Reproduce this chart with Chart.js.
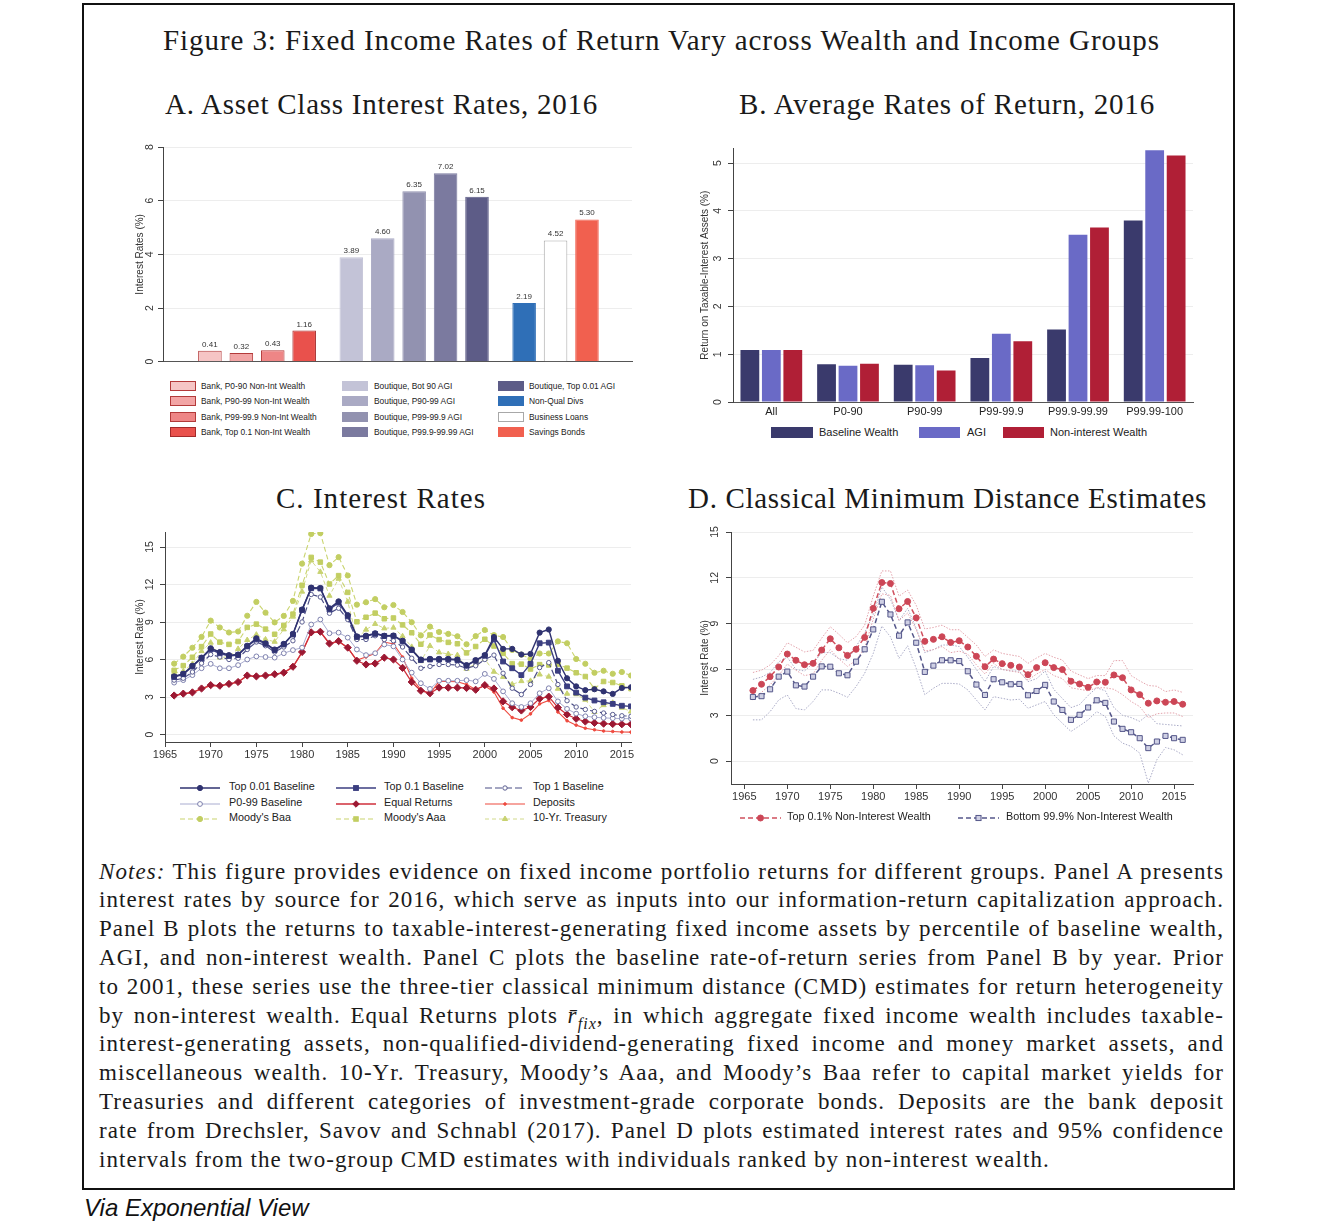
<!DOCTYPE html>
<html>
<head>
<meta charset="utf-8">
<title>Figure 3</title>
<script src="https://cdn.jsdelivr.net/npm/chart.js@4.4.1/dist/chart.umd.min.js"></script>
<style>
html,body{margin:0;padding:0;background:#fff;}
body{position:relative;width:1340px;height:1230px;overflow:hidden;font-family:'Liberation Sans',Arial,sans-serif;color:#222;}
#frame{position:absolute;left:82px;top:3px;width:1153px;height:1187px;border:2px solid #111;box-sizing:border-box;}
.ttl{position:absolute;font-family:'Liberation Serif',serif;font-size:29px;line-height:30px;height:30px;white-space:nowrap;color:#1a1a1a;}
.note{position:absolute;left:99px;width:1125px;font-family:'Liberation Serif',serif;font-size:23px;line-height:28.8px;height:28.8px;text-align:justify;text-align-last:justify;color:#1a1a1a;}
.note.last{text-align-last:left;}
.cv{position:absolute;}
.sw{position:absolute;box-sizing:border-box;}
.lt{position:absolute;white-space:nowrap;line-height:1;transform:translateY(-50%);color:#222;}
.ls{position:absolute;transform:translateY(-50%);}
#via{position:absolute;left:84px;top:1194px;font-style:italic;font-size:24px;line-height:28px;white-space:nowrap;color:#111;}
</style>
</head>
<body>
<div id="frame"></div>

<div class="ttl" data-w="997" style="left:163px;top:25px">Figure 3: Fixed Income Rates of Return Vary across Wealth and Income Groups</div>
<div class="ttl" data-w="433" style="left:165px;top:89px">A. Asset Class Interest Rates, 2016</div>
<div class="ttl" data-w="416" style="left:739px;top:89px">B. Average Rates of Return, 2016</div>
<div class="ttl" data-w="210" style="left:276px;top:483px">C. Interest Rates</div>
<div class="ttl" data-w="519" style="left:688px;top:483px">D. Classical Minimum Distance Estimates</div>

<canvas id="cA" class="cv" width="522" height="238" style="left:120px;top:135px"></canvas>
<canvas id="cB" class="cv" width="515" height="287" style="left:690px;top:135px"></canvas>
<canvas id="cC" class="cv" width="520" height="250" style="left:120px;top:520px"></canvas>
<canvas id="cD" class="cv" width="515" height="290" style="left:690px;top:520px"></canvas>

<div id="legends"></div>
<div id="notes"></div>
<div id="via">Via Exponential View</div>

<script>
// ---- Panel A: asset class interest rates, 2016
const aLabels=['Bank, P0-90 Non-Int Wealth','Bank, P90-99 Non-Int Wealth','Bank, P99-99.9 Non-Int Wealth','Bank, Top 0.1 Non-Int Wealth',
 'Boutique, Bot 90 AGI','Boutique, P90-99 AGI','Boutique, P99-99.9 AGI','Boutique, P99.9-99.99 AGI','Boutique, Top 0.01 AGI',
 'Non-Qual Divs','Business Loans','Savings Bonds'];
const aRates=[0.41,0.32,0.43,1.16,3.89,4.60,6.35,7.02,6.15,2.19,4.52,5.30];
const aGroup=[0,0,0,0,1,1,1,1,1,2,2,2];

// ---- Panel B: average rates of return by group, 2016
const bCats=['All','P0-90','P90-99','P99-99.9','P99.9-99.99','P99.99-100'];
const bSeries=['Baseline Wealth','AGI','Non-interest Wealth'];
const bBaseline=[1.09,0.79,0.78,0.92,1.52,3.80];
const bAGI=[1.09,0.76,0.77,1.43,3.50,5.27];
const bNonInt=[1.09,0.80,0.66,1.27,3.65,5.16];

// ---- Panel C / D: years
const years=[1966,1967,1968,1969,1970,1971,1972,1973,1974,1975,1976,1977,1978,1979,1980,1981,1982,1983,1984,1985,
 1986,1987,1988,1989,1990,1991,1992,1993,1994,1995,1996,1997,1998,1999,2000,2001,2002,2003,2004,2005,
 2006,2007,2008,2009,2010,2011,2012,2013,2014,2015,2016];

// ---- Panel C: interest rates
const cSeries=['Top 0.01 Baseline','Top 0.1 Baseline','Top 1 Baseline','P0-99 Baseline','Equal Returns','Deposits',"Moody's Baa","Moody's Aaa",'10-Yr. Treasury'];
const cTop001=[4.65,4.86,5.50,6.15,6.90,6.60,6.35,6.40,7.10,7.70,7.30,6.80,7.25,8.05,10.00,11.75,11.72,10.10,10.65,9.55,7.85,7.90,8.10,7.90,7.92,7.50,6.80,6.00,6.05,6.05,6.05,6.00,5.55,5.95,6.35,
 7.80,6.85,6.85,6.40,6.45,8.15,8.40,5.90,4.50,3.85,3.55,3.62,3.45,3.25,3.72,3.78];
const cTop01=[4.60,4.82,5.45,6.10,6.80,6.50,6.28,6.35,7.05,7.60,7.25,6.75,7.20,8.00,9.95,11.70,11.68,10.00,10.55,9.45,7.80,7.85,8.05,7.88,7.88,7.45,6.75,5.95,6.00,6.00,6.00,5.95,5.50,5.90,6.30,
 7.60,5.84,5.30,4.75,5.65,7.30,7.35,5.10,3.85,3.35,2.95,2.72,2.58,2.45,2.30,2.25];
const cTop1=[4.35,4.50,5.00,5.70,6.40,6.20,6.00,6.10,6.80,7.40,7.10,6.60,7.00,7.50,9.00,11.20,11.00,9.70,10.10,9.20,7.60,7.60,7.90,7.60,7.50,7.00,6.10,5.30,5.45,5.60,5.60,5.55,5.30,5.50,6.00,
 6.35,4.90,3.70,3.20,4.00,5.35,5.75,4.00,2.70,2.20,2.00,1.85,1.72,1.60,1.50,1.46];
const cP099=[4.15,4.35,4.75,5.30,5.65,5.30,5.30,5.55,6.00,6.25,6.20,6.15,6.50,6.75,6.95,8.80,9.20,8.10,8.15,7.75,6.80,6.35,6.50,7.20,7.05,6.00,4.95,4.10,3.65,4.30,4.30,4.30,4.35,4.25,4.85,
 4.45,3.45,2.50,2.20,2.50,3.30,3.70,2.65,2.05,1.67,1.46,1.38,1.33,1.30,1.27,1.27];
const cEqual=[3.12,3.27,3.37,3.68,3.95,3.90,4.05,4.20,4.72,4.65,4.72,4.82,4.95,5.42,6.60,8.17,8.22,7.28,7.47,6.95,5.90,5.60,5.68,6.15,6.00,5.33,4.20,3.50,3.30,3.75,3.75,3.75,3.72,3.58,3.95,
 3.68,2.65,2.18,1.92,2.20,2.87,3.03,2.15,1.60,1.26,1.04,0.93,0.87,0.84,0.82,0.82];
const cDeposits=[3.10,3.25,3.35,3.65,3.90,3.88,4.02,4.18,4.70,4.62,4.70,4.80,4.92,5.40,6.55,8.15,8.20,7.25,7.45,6.92,5.95,6.20,6.50,7.40,7.25,6.20,4.50,3.60,3.25,4.25,4.25,4.22,4.00,3.60,3.90,
 3.40,2.10,1.35,1.15,1.65,2.45,2.72,1.80,1.10,0.75,0.50,0.38,0.28,0.24,0.20,0.19];
const cBaa=[5.67,6.23,6.94,7.81,9.11,8.56,8.16,8.24,9.50,10.61,9.75,8.97,9.49,10.69,13.67,16.04,16.11,13.55,14.19,12.72,10.39,10.58,10.83,10.18,10.36,9.80,8.98,7.93,8.63,8.20,8.05,7.86,7.22,7.87,8.36,
 7.95,7.80,6.77,6.39,6.06,6.48,6.48,7.45,7.30,6.04,5.66,4.94,5.10,4.86,5.00,4.72];
const cAaa=[5.13,5.51,6.18,7.03,8.04,7.39,7.21,7.44,8.57,8.83,8.43,8.02,8.73,9.63,11.94,14.17,13.79,12.04,12.71,11.37,9.02,9.38,9.71,9.26,9.32,8.77,8.14,7.22,7.96,7.59,7.37,7.26,6.53,7.04,7.62,
 7.08,6.49,5.67,5.63,5.24,5.59,5.56,5.63,5.31,4.94,4.64,3.67,4.24,4.16,3.89,3.67];
const cTsy=[4.92,5.07,5.65,6.67,7.35,6.16,6.21,6.85,7.56,7.99,7.61,7.42,8.41,9.43,11.43,13.92,13.01,11.10,12.46,10.62,7.67,8.39,8.85,8.49,8.55,7.86,7.01,5.87,7.09,6.57,6.44,6.35,5.26,5.65,6.03,
 5.02,4.61,4.01,4.27,4.29,4.80,4.63,3.66,3.26,3.22,2.78,1.80,2.35,2.54,2.14,1.84];

// ---- Panel D: CMD estimates and 95% intervals
const dSeries=['Top 0.1% Non-Interest Wealth','Bottom 99.9% Non-Interest Wealth'];
const dTop=[4.62,5.03,5.53,6.16,7.01,6.60,6.31,6.40,7.27,8.01,7.42,6.92,7.32,8.10,10.00,11.69,11.63,9.97,10.45,9.38,7.84,7.97,8.14,7.77,7.88,7.47,6.86,6.18,6.68,6.38,6.27,6.16,5.66,6.12,6.44,
 6.12,5.99,5.23,5.05,4.83,5.18,5.16,5.64,5.46,4.66,4.35,3.79,3.94,3.85,3.90,3.72];
const dBot=[4.20,4.25,4.70,5.53,5.86,4.96,4.88,5.53,6.20,6.18,5.75,5.62,6.51,7.32,8.62,10.43,9.60,8.21,9.08,7.75,5.84,6.25,6.60,6.60,6.55,5.88,5.01,4.33,5.36,5.16,5.03,5.05,4.31,4.59,4.99,
 3.90,3.35,2.70,3.03,3.51,3.98,3.81,2.59,2.11,1.89,1.50,0.85,1.28,1.65,1.50,1.39];
const dTopHi=[5.80,5.95,6.30,6.90,7.75,7.45,7.15,7.25,8.05,8.80,8.30,7.75,8.15,8.90,10.80,12.45,12.45,10.80,11.20,10.20,8.65,8.75,8.90,8.60,8.60,8.10,7.60,6.85,7.28,7.05,6.95,6.85,6.40,6.75,7.05,
 6.80,6.62,5.90,5.64,5.40,5.60,5.60,6.58,6.58,5.60,5.25,4.95,4.90,4.55,4.66,4.50];
const dTopLo=[4.00,4.50,5.00,5.60,6.35,5.95,5.60,5.70,6.60,7.30,6.70,6.20,6.60,7.40,9.30,10.95,10.85,9.20,9.70,8.60,7.20,7.30,7.50,7.10,7.20,7.00,6.30,5.70,6.40,6.00,5.90,5.80,5.30,5.70,6.00,
 5.60,5.40,4.80,4.70,4.60,4.80,4.80,4.70,4.35,3.90,3.57,2.85,3.10,3.15,3.15,2.92];
const dBotHi=[5.35,5.50,5.80,6.50,6.80,6.00,5.90,6.40,7.10,7.10,6.70,6.60,7.50,8.40,9.60,11.40,10.60,9.20,10.00,8.70,7.10,7.30,7.60,7.60,7.50,6.80,6.00,5.20,6.20,6.00,5.90,5.90,5.20,5.40,5.90,
 4.70,4.10,3.50,3.70,4.30,4.80,4.60,3.50,3.00,2.85,2.60,3.05,2.45,2.40,2.35,2.30];
const dBotLo=[2.70,2.70,3.24,4.00,4.33,3.44,3.35,3.90,4.66,4.66,4.44,4.18,4.88,5.75,7.05,8.84,8.14,6.73,7.55,6.07,4.35,4.77,5.09,5.09,5.05,4.66,4.00,3.35,4.22,4.11,4.00,4.05,3.46,3.68,3.90,
 3.03,2.48,1.94,2.31,2.70,3.24,2.92,1.65,1.18,0.96,0.52,-1.44,0.09,0.89,0.74,0.41];

// ---- styles
const aFill=['#f6c5c5','#f2a5a5','#ee8686','#e9514c','#c3c3d7','#aaaac4','#9292b0','#7b7a9f','#5d5c87','#2f6fb7','#ffffff','#f1604f'];
const aEdge=['#b33a3a','#b33a3a','#b33a3a','#a32a2a','#c3c3d7','#aaaac4','#9292b0','#7b7a9f','#5d5c87','#2f6fb7','#a8a8a8','#f1604f'];
const bColors=['#3a3a6c','#6a6ac6','#b01f36'];
const cStyles=[
 {color:'#2f3270',width:1.4,dash:[],shape:'circle',r:2.6,fill:'#2f3270',pt:'#2f3270'},
 {color:'#3b3e80',width:1.4,dash:[],shape:'rect',r:3.4,fill:'#3b3e80',pt:'#3b3e80'},
 {color:'#4b4e86',width:1.2,dash:[7,3],shape:'circle',r:2.2,fill:'#ffffff',pt:'#5a5d90'},
 {color:'#a9acd0',width:1,dash:[],shape:'circle',r:2.4,fill:'#ffffff',pt:'#7d80ad'},
 {color:'#cf2f3b',width:1.3,dash:[],shape:'rectRot',r:3.6,fill:'#9c1832',pt:'#9c1832'},
 {color:'#ee4a3f',width:1.1,dash:[],shape:'circle',r:1.3,fill:'#ee4a3f',pt:'#ee4a3f'},
 {color:'#c9d46e',width:1.1,dash:[5,3],shape:'circle',r:2.6,fill:'#c2ce62',pt:'#c2ce62'},
 {color:'#c9d46e',width:1.1,dash:[5,3],shape:'rect',r:3.2,fill:'#c2ce62',pt:'#c2ce62'},
 {color:'#d2da8c',width:1.0,dash:[4,3],shape:'triangle',r:3,fill:'#c8d270',pt:'#c8d270'}
];
const dStyles=[
 {color:'#d0505e',width:1.5,dash:[5,3],shape:'circle',r:3,fill:'#cc4656',pt:'#cc4656'},
 {color:'#55578a',width:1.5,dash:[5,3],shape:'rect',r:3.6,fill:'#cfd0e4',pt:'#55578a'}
];

Chart.defaults.font.family="'Liberation Sans', Arial, sans-serif";
Chart.defaults.color='#333';

function pts(vals){return years.map((y,i)=>({x:y,y:vals[i]}));}

function yAxis(min,max,step,title,titlePad,tickPad,width){
  return {min:min,max:max,
    afterFit:function(s){s.width=width;},
    ticks:{stepSize:step,includeBounds:false,minRotation:90,maxRotation:90,crossAlign:'center',padding:tickPad,font:{size:10.5},color:'#333'},
    grid:{color:'#ededed',tickColor:'#444',tickLength:5,lineWidth:1},
    border:{color:'#444',width:1},
    title:{display:true,text:title,font:{size:10},color:'#333',padding:{top:titlePad,bottom:0}}};
}
function yearAxis(min,max,h){
  return {type:'linear',min:min,max:max,
    afterFit:function(s){s.height=h;},
    ticks:{stepSize:5,includeBounds:false,padding:1,font:{size:11},color:'#333',maxRotation:0,autoSkip:false,callback:v=>String(v)},
    grid:{drawOnChartArea:false,tickColor:'#444',tickLength:5},
    border:{color:'#444',width:1}};
}
const noPlug={legend:{display:false},tooltip:{enabled:false}};

// ---- Panel A chart
const barValues={id:'barValues',afterDatasetsDraw(chart){
  const ctx=chart.ctx,meta=chart.getDatasetMeta(0);
  ctx.save();ctx.font="8px 'Liberation Sans', Arial";ctx.fillStyle='#333';ctx.textAlign='center';ctx.textBaseline='alphabetic';
  meta.data.forEach((el,i)=>ctx.fillText(aRates[i].toFixed(2),el.x,el.y-4));
  ctx.restore();
}};
new Chart(document.getElementById('cA'),{
  type:'bar',
  data:{datasets:[{data:aRates.map((v,i)=>({x:i+1+aGroup[i]*0.5,y:v})),backgroundColor:aFill,borderColor:aEdge,borderWidth:1,
    barPercentage:0.75,categoryPercentage:1}]},
  options:{responsive:false,animation:false,layout:{padding:{top:12,right:10,left:0,bottom:0}},plugins:noPlug,
    scales:{
      x:{type:'linear',min:0.44,max:13.5,afterFit:function(s){s.height=3;},ticks:{display:false},
        grid:{display:true,drawOnChartArea:false,drawTicks:false},border:{color:'#555',width:1}},
      y:yAxis(0,8,2,'Interest Rates (%)',14,5,43)}},
  plugins:[barValues]
});

// ---- Panel B chart
new Chart(document.getElementById('cB'),{
  type:'bar',
  data:{labels:bCats,datasets:[bBaseline,bAGI,bNonInt].map((d,i)=>({label:bSeries[i],data:d,backgroundColor:bColors[i],
    barPercentage:0.875,categoryPercentage:0.84}))},
  options:{responsive:false,animation:false,layout:{padding:{top:12,right:12,left:0,bottom:0}},plugins:noPlug,
    scales:{
      x:{afterFit:function(s){s.height=20;},ticks:{padding:3,font:{size:11},color:'#222'},
        grid:{display:true,drawOnChartArea:false,drawTicks:false},border:{color:'#555',width:1}},
      y:yAxis(0,5.31,1,'Return on Taxable-Interest Assets (%)',9,7,43)}}
});

// ---- Panel C chart
const cData=[cTop001,cTop01,cTop1,cP099,cEqual,cDeposits,cBaa,cAaa,cTsy];
function lineSet(label,vals,st){
  return {label:label,data:pts(vals),borderColor:st.color,borderWidth:st.width,borderDash:st.dash,
    pointStyle:st.shape,pointRadius:st.r,pointBackgroundColor:st.fill,pointBorderColor:st.pt,pointBorderWidth:1,
    tension:0,fill:false};
}
new Chart(document.getElementById('cC'),{
  type:'line',
  data:{datasets:cData.map((v,i)=>lineSet(cSeries[i],v,cStyles[i]))},
  options:{responsive:false,animation:false,layout:{padding:{top:12,right:9,left:0,bottom:0}},plugins:noPlug,
    scales:{x:yearAxis(1965,2016,28),y:yAxis(-0.6,16.2,3,'Interest Rate (%)',14,4.5,45)}}
});

// ---- Panel D chart
function ciSet(vals,color){
  return {data:pts(vals),borderColor:color,borderWidth:1,borderDash:[1.5,1.5],pointRadius:0,tension:0,fill:false};
}
new Chart(document.getElementById('cD'),{
  type:'line',
  data:{datasets:[lineSet(dSeries[0],dTop,dStyles[0]),lineSet(dSeries[1],dBot,dStyles[1]),
    ciSet(dTopHi,'#e3a3ac'),ciSet(dTopLo,'#e3a3ac'),ciSet(dBotHi,'#a9aac6'),ciSet(dBotLo,'#a9aac6')]},
  options:{responsive:false,animation:false,layout:{padding:{top:12,right:12,left:0,bottom:0}},plugins:noPlug,
    scales:{x:yearAxis(1963.45,2017.2,26),y:yAxis(-1.5,15,3,'Interest Rate (%)',9,5.5,41)}}
});

// ---- legends (html)
const lg=document.getElementById('legends');
function add(html){lg.insertAdjacentHTML('beforeend',html);}
// A: three columns of four
const aColSw=[169.5,342.3,497.7],aColTx=[201,374,529];
aLabels.forEach((t,i)=>{
  const col=Math.floor(i/4),row=i%4,cy=385.7+row*15.43;
  add(`<div class="sw" style="left:${aColSw[col]}px;top:${cy-5}px;width:26px;height:10px;background:${aFill[i]};border:1px solid ${aEdge[i]}"></div>`);
  add(`<div class="lt" style="left:${aColTx[col]}px;top:${cy}px;font-size:8.4px">${t}</div>`);
});
// B: one row
const bSw=[771,918.5,1002.5],bTx=[819,967,1050];
bSeries.forEach((t,i)=>{
  add(`<div class="sw" style="left:${bSw[i]}px;top:426.5px;width:41.5px;height:11px;background:${bColors[i]}"></div>`);
  add(`<div class="lt" style="left:${bTx[i]}px;top:432px;font-size:11px">${t}</div>`);
});
function sample(st,w){
  const c=w/2,y=6,r=st.r;
  const dash=st.dash.length?`stroke-dasharray="${st.dash.join(',')}"`:'';
  let m='';
  if(st.shape==='circle') m=`<circle cx="${c}" cy="${y}" r="${r}" fill="${st.fill}" stroke="${st.pt}" stroke-width="1"/>`;
  else if(st.shape==='rect'){const s=r*Math.SQRT1_2;m=`<rect x="${c-s}" y="${y-s}" width="${2*s}" height="${2*s}" fill="${st.fill}" stroke="${st.pt}" stroke-width="1"/>`;}
  else if(st.shape==='rectRot'){const s=r*0.9;m=`<polygon points="${c},${y-s} ${c+s},${y} ${c},${y+s} ${c-s},${y}" fill="${st.fill}" stroke="${st.pt}"/>`;}
  else if(st.shape==='triangle'){const s=r;m=`<polygon points="${c},${y-s} ${c+s*0.87},${y+s*0.5} ${c-s*0.87},${y+s*0.5}" fill="${st.fill}" stroke="${st.pt}"/>`;}
  return `<svg width="${w}" height="12"><line x1="0" y1="${y}" x2="${w}" y2="${y}" stroke="${st.color}" stroke-width="${st.width}" ${dash}/>${m}</svg>`;
}
// C: three by three
const cColLn=[180,336,485],cColTx=[229,384,533],cRowY=[786,801.5,817];
cSeries.forEach((t,i)=>{
  const col=i%3,row=Math.floor(i/3);
  add(`<div class="ls" style="left:${cColLn[col]}px;top:${cRowY[row]}px;height:12px">${sample(cStyles[i],40)}</div>`);
  add(`<div class="lt" style="left:${cColTx[col]}px;top:${cRowY[row]}px;font-size:10.8px">${t}</div>`);
});
// D: one row
const dLn=[740,958],dTx=[787,1006];
dSeries.forEach((t,i)=>{
  add(`<div class="ls" style="left:${dLn[i]}px;top:816px;height:12px">${sample(dStyles[i],41)}</div>`);
  add(`<div class="lt" style="left:${dTx[i]}px;top:816px;font-size:10.8px">${t}</div>`);
});

// ---- notes
const noteLines=[
 '<i>Notes:</i> This figure provides evidence on fixed income portfolio returns for different groups. Panel A presents',
 'interest rates by source for 2016, which serve as inputs into our information-return capitalization approach.',
 'Panel B plots the returns to taxable-interest-generating fixed income assets by percentile of baseline wealth,',
 'AGI, and non-interest wealth. Panel C plots the baseline rate-of-return series from Panel B by year. Prior',
 'to 2001, these series use the three-tier classical minimum distance (CMD) estimates for return heterogeneity',
 'by non-interest wealth. Equal Returns plots <i>r\u0304</i><sub style="font-size:16px;line-height:0"><i>fix</i></sub>, in which aggregate fixed income wealth includes taxable-',
 'interest-generating assets, non-qualified-dividend-generating fixed income and money market assets, and',
 'miscellaneous wealth. 10-Yr. Treasury, Moody\u2019s Aaa, and Moody\u2019s Baa refer to capital market yields for',
 'Treasuries and different categories of investment-grade corporate bonds. Deposits are the bank deposit',
 'rate from Drechsler, Savov and Schnabl (2017). Panel D plots estimated interest rates and 95% confidence',
 'intervals from the two-group CMD estimates with individuals ranked by non-interest wealth.'
];
const notes=document.getElementById('notes');
const meas=document.createElement('span');
meas.style.cssText="position:absolute;visibility:hidden;white-space:nowrap;font-family:'Liberation Serif',serif;font-size:23px;";
document.body.appendChild(meas);
let ls=10;
noteLines.forEach((h,i)=>{
  meas.innerHTML=h;meas.style.letterSpacing='0px';
  const nat=meas.getBoundingClientRect().width,n=meas.textContent.length;
  const target=(i===noteLines.length-1)?973:1116;
  ls=Math.min(ls,(target-nat)/n);
});
meas.remove();
noteLines.forEach((h,i)=>{
  const d=document.createElement('div');
  d.className='note'+(i===noteLines.length-1?' last':'');
  d.style.top=(872-14.4+i*28.8)+'px';
  d.style.letterSpacing=ls+'px';
  d.innerHTML=h;
  notes.appendChild(d);
});

// ---- fit serif titles to their widths
document.querySelectorAll('.ttl').forEach(el=>{
  el.style.letterSpacing='0px';
  const nat=el.getBoundingClientRect().width,n=el.textContent.length;
  el.style.letterSpacing=((+el.dataset.w-nat)/n)+'px';
});
</script>
</body>
</html>
